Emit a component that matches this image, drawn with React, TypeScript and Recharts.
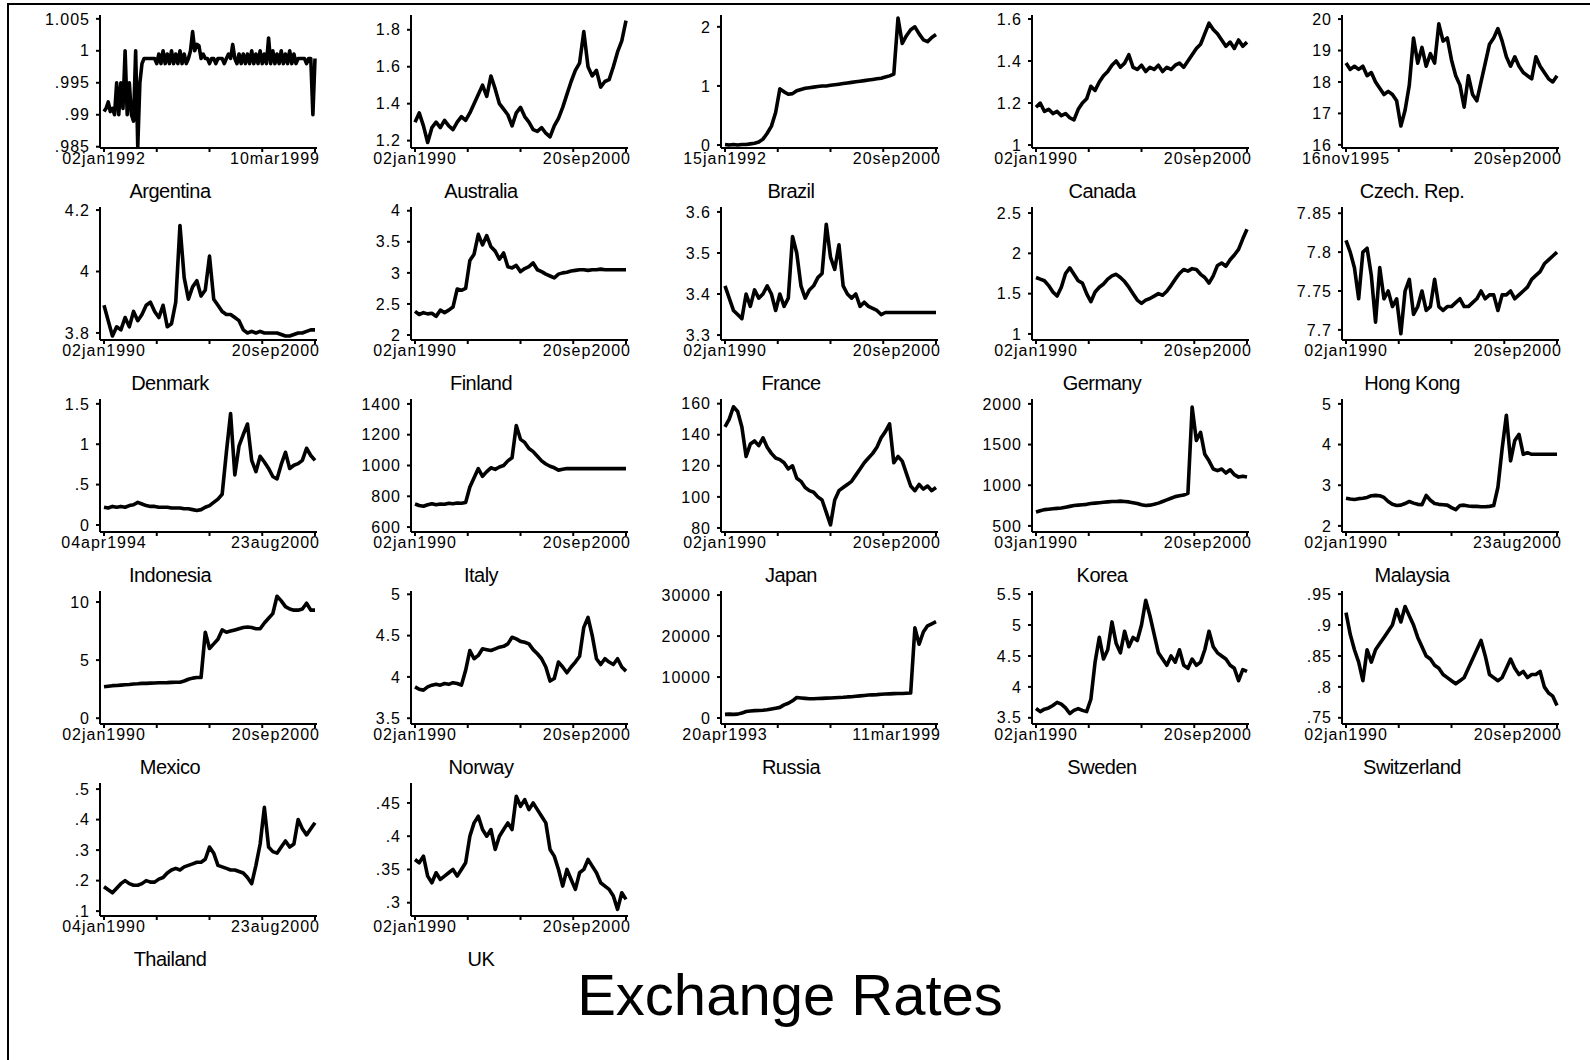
import { Line, LineChart, XAxis, YAxis } from "recharts";

const FONT = "'Liberation Sans', Arial, Helvetica, sans-serif";

// country panels, left to right, top to bottom
const COUNTRIES = [
  "Argentina", "Australia", "Brazil", "Canada", "Czech. Rep.",
  "Denmark", "Finland", "France", "Germany", "Hong Kong",
  "Indonesia", "Italy", "Japan", "Korea", "Malaysia",
  "Mexico", "Norway", "Russia", "Sweden", "Switzerland",
  "Thailand", "UK",
];

const START_LABELS = [
  "02jan1992", "02jan1990", "15jan1992", "02jan1990", "16nov1995",
  "02jan1990", "02jan1990", "02jan1990", "02jan1990", "02jan1990",
  "04apr1994", "02jan1990", "02jan1990", "03jan1990", "02jan1990",
  "02jan1990", "02jan1990", "20apr1993", "02jan1990", "02jan1990",
  "04jan1990", "02jan1990",
];

const END_LABELS = [
  "10mar1999", "20sep2000", "20sep2000", "20sep2000", "20sep2000",
  "20sep2000", "20sep2000", "20sep2000", "20sep2000", "20sep2000",
  "23aug2000", "20sep2000", "20sep2000", "20sep2000", "23aug2000",
  "20sep2000", "20sep2000", "11mar1999", "20sep2000", "20sep2000",
  "23aug2000", "20sep2000",
];

const Y_TICKS = [
  [0.985, 0.99, 0.995, 1, 1.005], [1.2, 1.4, 1.6, 1.8], [0, 1, 2], [1, 1.2, 1.4, 1.6], [16, 17, 18, 19, 20],
  [3.8, 4, 4.2], [2, 2.5, 3, 3.5, 4], [3.3, 3.4, 3.5, 3.6], [1, 1.5, 2, 2.5], [7.7, 7.75, 7.8, 7.85],
  [0, 0.5, 1, 1.5], [600, 800, 1000, 1200, 1400], [80, 100, 120, 140, 160], [500, 1000, 1500, 2000], [2, 3, 4, 5],
  [0, 5, 10], [3.5, 4, 4.5, 5], [0, 10000, 20000, 30000], [3.5, 4, 4.5, 5, 5.5], [0.75, 0.8, 0.85, 0.9, 0.95],
  [0.1, 0.2, 0.3, 0.4, 0.5], [0.3, 0.35, 0.4, 0.45],
];

const Y_DOMAINS = [
  [0.9848, 1.0056], [1.16, 1.88], [-0.05, 2.2], [0.986, 1.619], [15.9, 20.13],
  [3.777, 4.21], [1.92, 4.06], [3.288, 3.612], [0.925, 2.575], [7.687, 7.858],
  [-0.087, 1.56], [568, 1432], [77.4, 163], [425, 2060], [1.85, 5.12],
  [-0.5, 10.95], [3.43, 5.04], [-1460, 31000], [3.4, 5.55], [0.74, 0.955],
  [0.084, 0.52], [0.28, 0.48],
];

const argentina = [
  0.9905, 0.991, 0.992, 0.9905, 0.991, 0.99, 0.995, 0.99, 0.995, 0.991,
  1.0, 0.99, 0.995, 0.99, 0.989, 1.0, 0.985, 0.995, 0.998, 0.9988,
  0.9988, 0.9988, 0.9988, 0.9988, 0.9988, 0.998, 0.9995, 0.998, 1.0, 0.998,
  0.9995, 0.998, 1.0, 0.998, 0.9995, 0.998, 1.0, 0.998, 0.9995, 0.998,
  0.9988, 1.0, 1.003, 1.0, 1.001, 1.0008, 0.9988, 0.9995, 0.9988, 0.9988,
  0.998, 0.9988, 0.9988, 0.998, 0.9988, 0.9988, 0.9988, 0.998, 0.9988, 0.9995,
  0.9988, 1.001, 0.9988, 0.998, 0.9995, 0.998, 0.9995, 0.998, 0.9995, 0.998,
  1.0, 0.998, 0.9995, 0.998, 1.0, 0.998, 0.9995, 0.998, 1.002, 0.998,
  1.0, 0.998, 0.9995, 0.998, 1.0, 0.998, 0.9995, 0.998, 1.0, 0.998,
  0.9995, 0.998, 0.9988, 0.9988, 0.9988, 0.9988, 0.998, 0.9988, 0.9988, 0.99,
  0.9988,
];
const australia = [
  1.3, 1.35, 1.28, 1.19, 1.27, 1.3, 1.27, 1.31, 1.28, 1.26, 1.3, 1.33, 1.31, 1.35, 1.4, 1.45, 1.5,
  1.44, 1.55, 1.48, 1.4, 1.37, 1.34, 1.28, 1.35, 1.38, 1.33, 1.3, 1.26, 1.25, 1.27, 1.24, 1.22, 1.28,
  1.32, 1.38, 1.45, 1.52, 1.58, 1.62, 1.79, 1.6, 1.55, 1.58, 1.49, 1.52, 1.53, 1.6, 1.68, 1.74, 1.85,
];
const brazil = [
  0.01, 0.0, 0.01, 0.0, 0.01, 0.01, 0.02, 0.03, 0.05, 0.1, 0.2, 0.32, 0.55, 0.95, 0.9, 0.86, 0.87,
  0.92, 0.94, 0.96, 0.97, 0.98, 0.99, 1.0, 1.0, 1.01, 1.02, 1.03, 1.04, 1.05, 1.06, 1.07, 1.08, 1.09,
  1.1, 1.11, 1.12, 1.13, 1.15, 1.17, 1.2, 2.15, 1.72, 1.85, 1.95, 2.0, 1.88, 1.78, 1.75, 1.82, 1.87,
];
const canada = [
  1.18, 1.2, 1.16, 1.17, 1.15, 1.16, 1.14, 1.15, 1.13, 1.12, 1.17, 1.2, 1.22, 1.28, 1.26, 1.3, 1.33,
  1.35, 1.38, 1.4, 1.37, 1.39, 1.43, 1.37, 1.36, 1.38, 1.35, 1.37, 1.36, 1.38, 1.35, 1.37, 1.36, 1.38,
  1.39, 1.37, 1.4, 1.43, 1.46, 1.48, 1.53, 1.58, 1.55, 1.53, 1.5, 1.47, 1.49, 1.46, 1.5, 1.47, 1.49,
];
const czech = [
  18.6, 18.4, 18.5, 18.4, 18.5, 18.2, 18.3, 18.0, 17.8, 17.6, 17.7, 17.6, 17.4, 16.6, 17.1, 17.9, 19.4,
  18.6, 19.1, 18.5, 18.9, 18.6, 19.85, 19.3, 19.4, 18.7, 18.2, 17.9, 17.2, 18.2, 17.6, 17.4, 18.0, 18.6,
  19.2, 19.4, 19.7, 19.3, 18.8, 18.5, 18.8, 18.5, 18.3, 18.2, 18.1, 18.8, 18.5, 18.3, 18.1, 18.0, 18.2,
];
const denmark = [
  3.89, 3.84, 3.79, 3.82, 3.81, 3.85, 3.82, 3.87, 3.84, 3.86, 3.89, 3.9, 3.87, 3.85, 3.89, 3.82, 3.83,
  3.9, 4.15, 3.98, 3.91, 3.95, 3.97, 3.92, 3.94, 4.05, 3.91, 3.89, 3.87, 3.86, 3.86, 3.85, 3.84, 3.81,
  3.8, 3.805, 3.8, 3.805, 3.8, 3.8, 3.8, 3.8, 3.795, 3.79, 3.79, 3.795, 3.8, 3.8, 3.805, 3.81, 3.81,
];
const finland = [
  2.38, 2.33, 2.36, 2.34, 2.35, 2.3, 2.4, 2.36, 2.4, 2.45, 2.74, 2.72, 2.75, 3.2, 3.3, 3.62, 3.45,
  3.6, 3.42, 3.35, 3.22, 3.32, 3.1, 3.08, 3.12, 3.02, 3.07, 3.1, 3.16, 3.05, 3.02, 2.98, 2.95, 2.92,
  2.98, 3.0, 3.01, 3.03, 3.04, 3.05, 3.05, 3.04, 3.05, 3.05, 3.06, 3.05, 3.05, 3.05, 3.05, 3.05, 3.05,
];
const france = [
  3.42, 3.39, 3.36, 3.35, 3.34, 3.4, 3.37, 3.41, 3.39, 3.4, 3.42, 3.4, 3.36, 3.4, 3.37, 3.39, 3.54,
  3.5, 3.42, 3.39, 3.41, 3.42, 3.44, 3.45, 3.57, 3.49, 3.46, 3.52, 3.42, 3.4, 3.39, 3.4, 3.37, 3.38,
  3.37, 3.365, 3.36, 3.35, 3.355, 3.355, 3.355, 3.355, 3.355, 3.355, 3.355, 3.355, 3.355, 3.355, 3.355, 3.355, 3.355,
];
const germany = [
  1.7, 1.68, 1.66, 1.6, 1.52, 1.47, 1.58, 1.75, 1.82, 1.74, 1.66, 1.63, 1.5, 1.4, 1.52, 1.58, 1.62,
  1.68, 1.72, 1.74, 1.7, 1.65, 1.58, 1.5, 1.42, 1.38, 1.42, 1.44, 1.47, 1.5, 1.48, 1.53, 1.6, 1.68,
  1.75, 1.8, 1.78, 1.81, 1.8, 1.74, 1.7, 1.63, 1.72, 1.85, 1.88, 1.84, 1.92, 1.98, 2.05, 2.18, 2.3,
];
const hongKong = [
  7.815, 7.8, 7.78, 7.74, 7.8, 7.805, 7.77, 7.71, 7.78, 7.74, 7.75, 7.73, 7.74, 7.695, 7.75, 7.765, 7.72,
  7.73, 7.75, 7.725, 7.73, 7.765, 7.73, 7.725, 7.73, 7.73, 7.735, 7.74, 7.73, 7.73, 7.735, 7.74, 7.75, 7.74,
  7.745, 7.745, 7.725, 7.745, 7.745, 7.75, 7.74, 7.745, 7.75, 7.755, 7.765, 7.77, 7.775, 7.785, 7.79, 7.795, 7.8,
];
const indonesia = [
  0.22, 0.21, 0.23, 0.22, 0.23, 0.22, 0.24, 0.25, 0.28, 0.26, 0.24, 0.23, 0.23, 0.22, 0.22, 0.22, 0.21,
  0.21, 0.21, 0.2, 0.2, 0.19, 0.18, 0.19, 0.22, 0.24, 0.28, 0.32, 0.38, 0.9, 1.38, 0.62, 0.98, 1.12,
  1.25, 0.8, 0.66, 0.85, 0.78, 0.7, 0.6, 0.57, 0.75, 0.9, 0.7, 0.74, 0.76, 0.8, 0.95, 0.86, 0.8,
];
const italy = [
  750, 740, 735, 745, 752, 745, 750, 748, 755, 752, 756, 755, 760, 860, 920, 980, 930,
  960, 985, 975, 990, 1000, 1030, 1050, 1260, 1170, 1150, 1110, 1090, 1060, 1030, 1010, 995, 985,
  970, 975, 980, 980, 980, 980, 980, 980, 980, 980, 980, 980, 980, 980, 980, 980, 980,
];
const japan = [
  145, 150, 158, 155, 145, 126, 134, 136, 133, 138, 132, 128, 125, 124, 122, 118, 120,
  112, 110, 106, 104, 103, 100, 98, 90, 82, 98, 104, 106, 108, 110, 114, 118, 122,
  125, 128, 132, 138, 142, 147, 122, 126, 123, 115, 107, 104, 108, 105, 107, 104, 106,
];
const korea = [
  670, 685, 700, 705, 710, 715, 720, 730, 740, 750, 755, 760, 765, 775, 780, 785, 790,
  795, 800, 800, 805, 800, 795, 785, 775, 760, 750, 755, 765, 780, 800, 820, 840, 860,
  870, 880, 900, 1960, 1550, 1650, 1380, 1300, 1200, 1180, 1200, 1150, 1190, 1130, 1100, 1110, 1100,
];
const malaysia = [
  2.68, 2.66, 2.65, 2.67, 2.68, 2.7, 2.74, 2.75, 2.74, 2.7, 2.6, 2.53, 2.5, 2.51, 2.55, 2.6, 2.56,
  2.53, 2.52, 2.75, 2.63, 2.55, 2.53, 2.52, 2.51, 2.45, 2.4, 2.5, 2.51, 2.49, 2.48, 2.48, 2.47, 2.47,
  2.48, 2.5, 2.95, 3.9, 4.72, 3.6, 4.1, 4.25, 3.76, 3.8, 3.76, 3.76, 3.76, 3.76, 3.76, 3.76, 3.76,
];
const mexico = [
  2.7, 2.75, 2.8, 2.82, 2.85, 2.88, 2.9, 2.95, 2.97, 3.0, 3.0, 3.02, 3.03, 3.05, 3.05, 3.06, 3.08,
  3.1, 3.1, 3.2, 3.35, 3.45, 3.5, 3.5, 7.4, 6.0, 6.4, 6.8, 7.6, 7.4, 7.5, 7.6, 7.7, 7.8,
  7.85, 7.8, 7.7, 7.7, 8.2, 8.6, 9.0, 10.5, 10.1, 9.6, 9.4, 9.3, 9.3, 9.4, 9.9, 9.3, 9.3,
];
const norway = [
  3.88, 3.85, 3.84, 3.88, 3.9, 3.91, 3.9, 3.92, 3.91, 3.93, 3.92, 3.9, 4.08, 4.32, 4.22, 4.26, 4.34,
  4.33, 4.32, 4.34, 4.36, 4.37, 4.4, 4.48, 4.46, 4.43, 4.42, 4.4, 4.33, 4.28, 4.22, 4.12, 3.95, 3.98,
  4.18, 4.12, 4.05, 4.12, 4.18, 4.25, 4.6, 4.72, 4.5, 4.22, 4.15, 4.22, 4.18, 4.15, 4.22, 4.12, 4.07,
];
const russia = [
  900, 950, 900, 950, 1200, 1600, 1700, 1800, 1850, 1900, 2000, 2200, 2400, 2600, 3200, 3600, 4200,
  5000, 4900, 4800, 4700, 4700, 4750, 4800, 4850, 4900, 4950, 5000, 5050, 5150, 5200, 5300, 5400, 5500,
  5600, 5650, 5700, 5800, 5850, 5900, 5950, 6000, 6000, 6050, 6100, 22000, 18000, 21000, 22500, 23000, 23500,
];
const sweden = [
  3.65, 3.6, 3.64, 3.66, 3.7, 3.75, 3.72, 3.66, 3.57, 3.62, 3.65, 3.62, 3.6, 3.8, 4.4, 4.8, 4.45,
  4.6, 5.05, 4.7, 4.55, 4.9, 4.65, 4.8, 4.75, 5.0, 5.4, 5.15, 4.85, 4.55, 4.45, 4.35, 4.5, 4.4,
  4.6, 4.35, 4.3, 4.45, 4.35, 4.4, 4.6, 4.9, 4.65, 4.55, 4.5, 4.45, 4.35, 4.3, 4.1, 4.28, 4.25,
];
const switzerland = [
  0.92, 0.885, 0.86, 0.84, 0.81, 0.86, 0.84, 0.86, 0.87, 0.88, 0.89, 0.9, 0.925, 0.905, 0.93, 0.915, 0.9,
  0.88, 0.865, 0.85, 0.845, 0.835, 0.83, 0.82, 0.815, 0.81, 0.805, 0.81, 0.815, 0.83, 0.845, 0.86, 0.875, 0.85,
  0.82, 0.815, 0.81, 0.815, 0.83, 0.845, 0.83, 0.82, 0.825, 0.815, 0.82, 0.82, 0.825, 0.8, 0.79, 0.785, 0.77,
];
const thailand = [
  0.18, 0.17, 0.16, 0.175, 0.19, 0.2, 0.19, 0.185, 0.185, 0.19, 0.2, 0.195, 0.195, 0.205, 0.21, 0.225, 0.235,
  0.24, 0.235, 0.245, 0.25, 0.255, 0.26, 0.26, 0.27, 0.31, 0.29, 0.25, 0.245, 0.24, 0.235, 0.235, 0.23, 0.225,
  0.21, 0.19, 0.25, 0.32, 0.44, 0.31, 0.295, 0.29, 0.31, 0.33, 0.31, 0.32, 0.4, 0.37, 0.35, 0.37, 0.39,
];
const uk = [
  0.365, 0.36, 0.37, 0.34, 0.33, 0.345, 0.335, 0.34, 0.345, 0.35, 0.34, 0.35, 0.36, 0.4, 0.42, 0.43, 0.41,
  0.4, 0.41, 0.38, 0.4, 0.41, 0.42, 0.41, 0.46, 0.445, 0.455, 0.44, 0.45, 0.44, 0.43, 0.42, 0.38, 0.37,
  0.35, 0.325, 0.35, 0.335, 0.32, 0.345, 0.35, 0.365, 0.355, 0.345, 0.33, 0.325, 0.32, 0.31, 0.29, 0.315, 0.305,
];

const SERIES = [
  argentina, australia, brazil, canada, czech,
  denmark, finland, france, germany, hongKong,
  indonesia, italy, japan, korea, malaysia,
  mexico, norway, russia, sweden, switzerland,
  thailand, uk,
];

const fmtY = (v: number) => {
  const s = String(v);
  return s.startsWith("0.") ? s.slice(1) : s;
};

function Panel({ k }: { k: number }) {
  const values = SERIES[k];
  const n = values.length - 1;
  const rows = values.map((v, i) => ({ i, v }));
  const col = k % 5;
  const row = Math.floor(k / 5);
  const left = Math.round(col * 310.5);
  const top = row * 192;

  const xTick = (props: any) => {
    const { x, y, index } = props;
    const common = { y, dy: "0.71em", fontSize: 16, letterSpacing: 1, fill: "#000", fontFamily: FONT };
    if (index === 0) return <text {...common} x={x} textAnchor="middle">{START_LABELS[k]}</text>;
    if (index === 4) return <text {...common} x={x + 5} textAnchor="end">{END_LABELS[k]}</text>;
    return <g />;
  };

  return (
    <div style={{ position: "absolute", left, top, width: 330, height: 210 }}>
      <LineChart width={330} height={176} data={rows} margin={{ top: 15, right: 13, bottom: 0, left: 0 }}>
        <XAxis
          dataKey="i"
          type="number"
          domain={[0, n]}
          ticks={[0, n / 4, n / 2, (3 * n) / 4, n]}
          interval={0}
          padding={{ left: 4, right: 2 }}
          height={28}
          tickSize={4}
          tickMargin={1}
          axisLine={{ stroke: "#000", strokeWidth: 2 }}
          tickLine={{ stroke: "#000", strokeWidth: 2 }}
          tick={xTick}
        />
        <YAxis
          type="number"
          domain={Y_DOMAINS[k]}
          ticks={Y_TICKS[k]}
          allowDataOverflow
          interval={0}
          width={100}
          tickSize={4}
          tickMargin={6}
          tickFormatter={fmtY}
          axisLine={{ stroke: "#000", strokeWidth: 2 }}
          tickLine={{ stroke: "#000", strokeWidth: 2 }}
          tick={{ fontSize: 16, letterSpacing: 1, fill: "#000", fontFamily: FONT }}
        />
        <Line
          type="linear"
          dataKey="v"
          stroke="#000"
          strokeWidth={3.6}
          strokeLinejoin="round"
          dot={false}
          isAnimationActive={false}
        />
      </LineChart>
      <div
        style={{
          position: "absolute",
          left: 70,
          top: 181,
          width: 200,
          textAlign: "center",
          fontFamily: FONT,
          fontSize: 20,
          letterSpacing: -0.5,
          lineHeight: "20px",
        }}
      >
        {COUNTRIES[k]}
      </div>
    </div>
  );
}

export default function App() {
  return (
    <div
      style={{
        position: "absolute",
        left: 0,
        top: 0,
        width: 1590,
        height: 1060,
        background: "#fff",
        overflow: "hidden",
      }}
    >
      <div style={{ position: "absolute", left: 7, top: 3, width: 1583, height: 2, background: "#000" }} />
      <div style={{ position: "absolute", left: 7, top: 3, width: 2, height: 1057, background: "#000" }} />
      {SERIES.map((_, k) => (
        <Panel key={COUNTRIES[k]} k={k} />
      ))}
      <div
        style={{
          position: "absolute",
          left: 0,
          width: 1580,
          top: 962,
          textAlign: "center",
          fontFamily: FONT,
          fontSize: 58,
          lineHeight: "66px",
        }}
      >
        Exchange Rates
      </div>
    </div>
  );
}
